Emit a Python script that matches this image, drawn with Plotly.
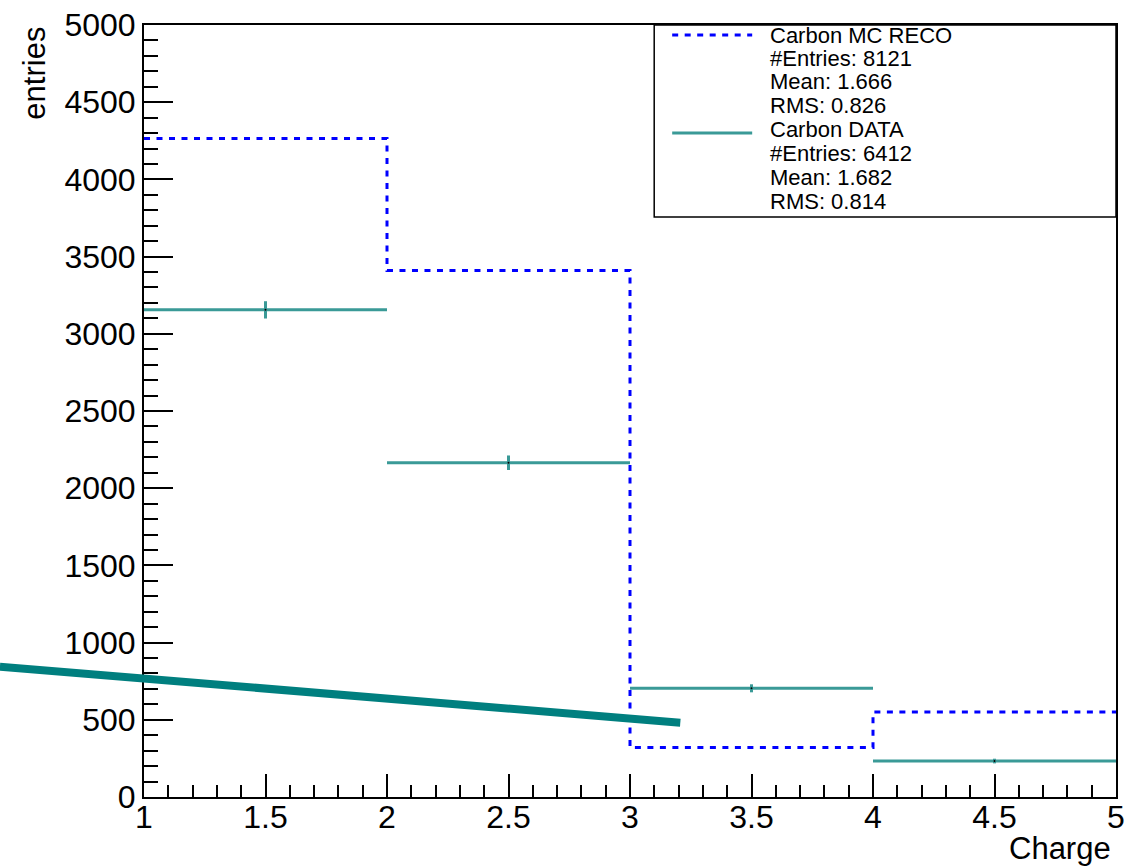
import plotly.graph_objects as go

# Histogram binning and contents
bin_edges = [1, 2, 3, 4, 5]
bin_centers = [1.5, 2.5, 3.5, 4.5]
bin_half_widths = [0.5, 0.5, 0.5, 0.5]

mc_reco_counts = [4265, 3410, 320, 550]
data_counts = [3155, 2165, 704, 233]
data_errors = [56, 47, 26, 15]

# Legend / statistics box text
mc_label = ["Carbon MC RECO", "#Entries: 8121", "Mean: 1.666", "RMS: 0.826"]
data_label = ["Carbon DATA", "#Entries: 6412", "Mean: 1.682", "RMS: 0.814"]

# Overlay stroke (data coordinates)
overlay_x = [0.407, 3.207]
overlay_y = [844, 481]

x_range = [1, 5]
y_range = [0, 5000]

FONT = "Liberation Sans, Arial, Helvetica, sans-serif"
MC_COLOR = "#0000ff"
DATA_COLOR = "#3a9a97"
OVERLAY_COLOR = "#007f7f"

fig = go.Figure()

# MC step histogram (dashed)
fig.add_trace(go.Scatter(
    x=bin_edges,
    y=mc_reco_counts + [mc_reco_counts[-1]],
    mode="lines",
    line=dict(shape="hv", color=MC_COLOR, width=3, dash="6px,6.5px"),
    showlegend=False,
    hoverinfo="skip",
))

# Data points with bin-width horizontal bars and statistical errors
fig.add_trace(go.Scatter(
    x=bin_centers,
    y=data_counts,
    mode="markers",
    marker=dict(color="black", size=2),
    error_x=dict(type="data", array=bin_half_widths, color=DATA_COLOR,
                 thickness=3, width=0),
    error_y=dict(type="data", array=data_errors, color=DATA_COLOR,
                 thickness=3, width=0),
    showlegend=False,
    hoverinfo="skip",
))


def to_paper_x(v):
    return (v - x_range[0]) / (x_range[1] - x_range[0])


def to_paper_y(v):
    return (v - y_range[0]) / (y_range[1] - y_range[0])


shapes = []
# Thick overlay stroke, allowed to extend past the frame
shapes.append(dict(
    type="line", xref="paper", yref="paper",
    x0=to_paper_x(overlay_x[0]), y0=to_paper_y(overlay_y[0]),
    x1=to_paper_x(overlay_x[1]), y1=to_paper_y(overlay_y[1]),
    line=dict(color=OVERLAY_COLOR, width=8), layer="above",
))

# Statistics box
box_x0, box_x1, box_y0, box_y1 = 0.5249, 1.0, 0.7513, 1.0
shapes.append(dict(
    type="rect", xref="paper", yref="paper",
    x0=box_x0, x1=box_x1, y0=box_y0, y1=box_y1,
    line=dict(color="black", width=1.5), fillcolor="white", layer="above",
))
# Legend line samples
shapes.append(dict(
    type="line", xref="paper", yref="paper",
    x0=0.5434, x1=0.6257, y0=0.987, y1=0.987,
    line=dict(color=MC_COLOR, width=3, dash="6px,6.5px"), layer="above",
))
shapes.append(dict(
    type="line", xref="paper", yref="paper",
    x0=0.5434, x1=0.6257, y0=0.860, y1=0.860,
    line=dict(color=DATA_COLOR, width=3), layer="above",
))

annotations = []
text_rows_y = [0.987, 0.957, 0.927, 0.896, 0.864, 0.833, 0.803, 0.771]
for text, yy in zip(mc_label + data_label, text_rows_y):
    annotations.append(dict(
        text=text, xref="paper", yref="paper", x=0.6422, y=yy,
        xanchor="left", yanchor="middle", showarrow=False,
        font=dict(family=FONT, size=22, color="black"),
    ))

# Axis titles, right-aligned as in ROOT
annotations.append(dict(
    text="Charge", xref="paper", yref="paper", x=0.997, y=-0.067,
    xanchor="right", yanchor="middle", showarrow=False,
    font=dict(family=FONT, size=31, color="black"),
))
annotations.append(dict(
    text="entries", xref="paper", yref="paper", x=-0.113, y=1.0,
    xanchor="center", yanchor="top", textangle=-90, showarrow=False,
    font=dict(family=FONT, size=31, color="black"),
))

fig.update_layout(
    width=1125, height=867,
    margin=dict(l=144, r=9, t=25, b=70, autoexpand=False),
    paper_bgcolor="white", plot_bgcolor="white",
    shapes=shapes, annotations=annotations,
    font=dict(family=FONT, color="black"),
)

fig.update_xaxes(
    range=x_range, tickmode="linear", tick0=1, dtick=0.5,
    ticks="inside", ticklen=23, tickwidth=1.5, tickcolor="black",
    minor=dict(ticks="inside", ticklen=12, dtick=0.1, tickwidth=1.5,
               tickcolor="black", showgrid=False),
    showline=True, linecolor="black", linewidth=2, mirror=True,
    showgrid=False, zeroline=False, automargin=False,
    ticklabelstandoff=-9,
    tickfont=dict(family=FONT, size=32, color="black"),
)
fig.update_yaxes(
    range=y_range, tickmode="linear", tick0=0, dtick=500,
    ticks="inside", ticklen=29, tickwidth=1.5, tickcolor="black",
    minor=dict(ticks="inside", ticklen=14, dtick=100, tickwidth=1.5,
               tickcolor="black", showgrid=False),
    showline=True, linecolor="black", linewidth=2, mirror=True,
    showgrid=False, zeroline=False, automargin=False,
    tickfont=dict(family=FONT, size=32, color="black"),
)

fig.write_html("out.html")
